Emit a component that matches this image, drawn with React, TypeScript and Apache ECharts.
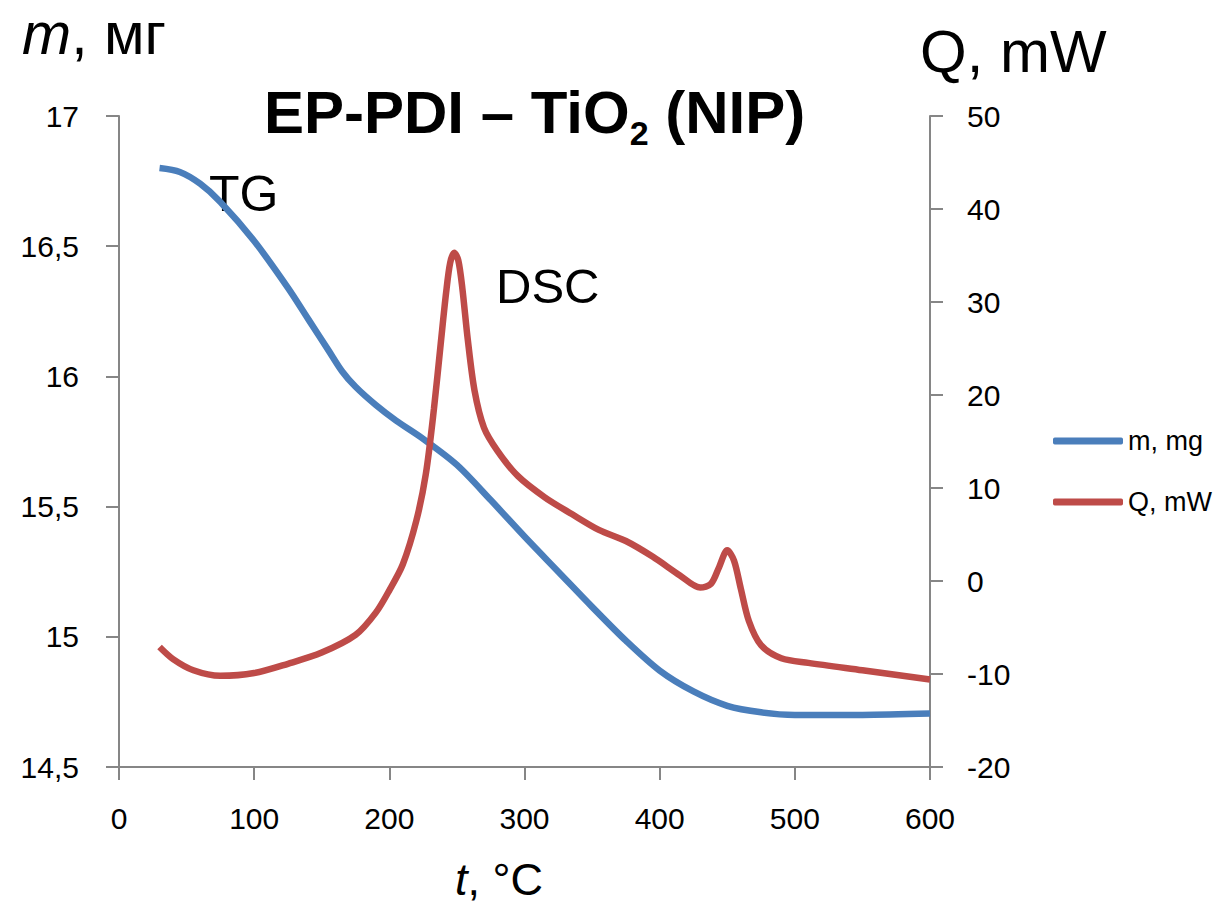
import React, { useEffect, useRef } from "react";
import * as echarts from "echarts";

const TEMP_TG = [30, 45, 60, 75, 100, 125, 140, 155, 165, 175, 190, 205, 225, 250, 275, 300, 325, 350, 375, 400, 425, 450, 475, 500, 550, 600];
const MASS_TG = [16.8, 16.785, 16.74, 16.67, 16.52, 16.34, 16.22, 16.1, 16.02, 15.96, 15.89, 15.83, 15.76, 15.66, 15.525, 15.385, 15.25, 15.115, 14.985, 14.87, 14.79, 14.735, 14.71, 14.7, 14.7, 14.705];

const TEMP_DSC = [30, 40, 55, 75, 100, 125, 150, 175, 190, 200, 210, 220, 227, 233, 238, 242, 245, 248, 251, 254, 258, 263, 270, 280, 295, 315, 335, 355, 375, 395, 415, 430, 438, 444, 450, 455, 460, 466, 475, 490, 510, 550, 600];
const Q_DSC = [-7.1, -8.4, -9.6, -10.2, -9.9, -8.9, -7.7, -5.8, -3.4, -1.0, 1.8, 6.5, 11.5, 18.5, 25.5, 31, 34.2, 35.3, 34.5, 31.5, 26, 20.5, 16.5, 14, 11.3, 9.0, 7.2, 5.5, 4.3, 2.6, 0.6, -0.7, -0.3, 1.5, 3.3, 2.2, -0.8, -4.3, -6.9, -8.3, -8.8, -9.6, -10.6];

const X_TICKS = { min: 0, max: 600, interval: 100 };
const M_TICKS = { min: 14.5, max: 17, interval: 0.5 };
const Q_TICKS = { min: -20, max: 50, interval: 10 };

const SERIES_NAMES = ["m, mg", "Q, mW"];
const TITLE_PARTS = ["EP-PDI – TiO", "2", " (NIP)"];

const FONT = "'Liberation Sans', Arial, sans-serif";
const AXIS_COLOR = "#868686";

export default function App() {
  const ref = useRef<HTMLDivElement>(null);

  useEffect(() => {
    if (!ref.current) return;
    const chart = echarts.init(ref.current, null, { renderer: "svg" });
    const axisCommon = {
      axisLine: { show: true, onZero: false, lineStyle: { color: AXIS_COLOR, width: 2 } },
      axisTick: { show: true, inside: false, length: 13, lineStyle: { color: AXIS_COLOR, width: 2 } },
      splitLine: { show: false },
      axisLabel: { fontFamily: FONT, fontSize: 30, color: "#000", margin: 36 },
    };
    chart.setOption({
      animation: false,
      backgroundColor: "#fff",
      textStyle: { fontFamily: FONT },
      title: {
        text: `{a|${TITLE_PARTS[0]}}{s|${TITLE_PARTS[1]}}{a|${TITLE_PARTS[2]}}`,
        left: 259,
        top: 77,
        textStyle: {
          rich: {
            a: { fontFamily: FONT, fontSize: 60, fontWeight: "bold", color: "#000", lineHeight: 60, verticalAlign: "top" },
            s: {
              fontFamily: FONT,
              fontSize: 34,
              fontWeight: "bold",
              color: "#000",
              lineHeight: 34,
              padding: [34, 0, 0, 0],
              verticalAlign: "top",
            },
          },
        },
      },
      legend: {
        orient: "vertical",
        left: 1048,
        top: 422,
        itemWidth: 70,
        itemHeight: 7,
        itemGap: 33,
        icon: "roundRect",
        data: SERIES_NAMES,
        textStyle: { fontFamily: FONT, fontSize: 27, color: "#000", lineHeight: 28 },
      },
      grid: { left: 119, right: 296, top: 116, bottom: 142, containLabel: false },
      xAxis: {
        type: "value",
        ...X_TICKS,
        ...axisCommon,
      },
      yAxis: [
        {
          type: "value",
          position: "left",
          ...M_TICKS,
          ...axisCommon,
          axisLabel: {
            ...axisCommon.axisLabel,
            margin: 40,
            formatter: (v: number) => String(v).replace(".", ","),
          },
        },
        {
          type: "value",
          position: "right",
          ...Q_TICKS,
          ...axisCommon,
          axisLabel: { ...axisCommon.axisLabel, margin: 37 },
        },
      ],
      graphic: [
        {
          type: "text",
          left: 22,
          top: 4,
          style: {
            text: "{i|m}{n|, мг}",
            rich: {
              i: { fontFamily: FONT, fontSize: 59, fontStyle: "italic", fill: "#000", lineHeight: 59 },
              n: { fontFamily: FONT, fontSize: 59, fill: "#000", lineHeight: 59 },
            },
          },
        },
        {
          type: "text",
          left: 920,
          top: 21,
          style: { text: "Q, mW", fontFamily: FONT, fontSize: 60, fill: "#000", lineHeight: 60 },
        },
        {
          type: "text",
          left: 455,
          top: 857,
          style: {
            text: "{i|t}{n|, °C}",
            rich: {
              i: { fontFamily: FONT, fontSize: 45, fontStyle: "italic", fill: "#000", lineHeight: 45 },
              n: { fontFamily: FONT, fontSize: 45, fill: "#000", lineHeight: 45 },
            },
          },
        },
        {
          type: "text",
          left: 209,
          top: 169,
          style: { text: "TG", fontFamily: FONT, fontSize: 50, fill: "#000", lineHeight: 50 },
        },
        {
          type: "text",
          left: 496,
          top: 261,
          style: { text: "DSC", fontFamily: FONT, fontSize: 49, fill: "#000", lineHeight: 49 },
        },
      ],
      series: [
        {
          name: SERIES_NAMES[0],
          type: "line",
          yAxisIndex: 0,
          smooth: 0.3,
          showSymbol: false,
          symbol: "none",
          color: "#4A7EBB",
          lineStyle: { color: "#4A7EBB", width: 6.5 },
          data: TEMP_TG.map((t, i) => [t, MASS_TG[i]]),
        },
        {
          name: SERIES_NAMES[1],
          type: "line",
          yAxisIndex: 1,
          smooth: 0.3,
          showSymbol: false,
          symbol: "none",
          color: "#BE4B48",
          lineStyle: { color: "#BE4B48", width: 6.5 },
          data: TEMP_DSC.map((t, i) => [t, Q_DSC[i]]),
        },
      ],
    });
    return () => chart.dispose();
  }, []);

  return (
    <div
      ref={ref}
      style={{ position: "fixed", left: 0, top: 0, width: 1226, height: 909, background: "#fff" }}
    />
  );
}
